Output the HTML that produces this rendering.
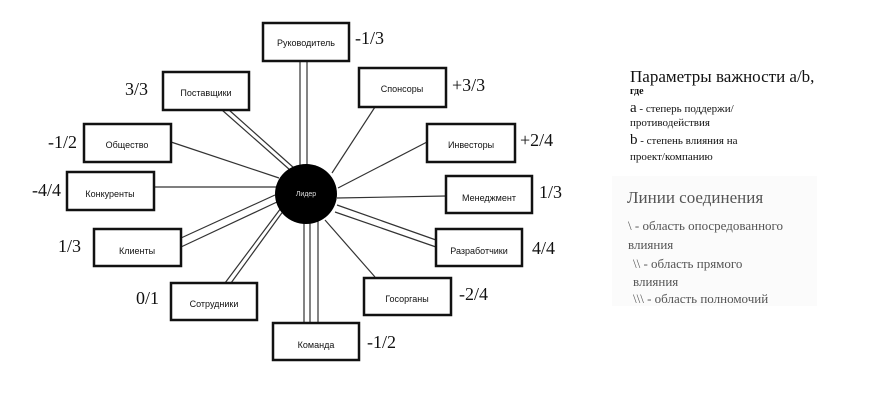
<!DOCTYPE html>
<html><head><meta charset="utf-8"><style>
body{margin:0;background:#fff;width:870px;height:400px;overflow:hidden}
svg{display:block}
.b{fill:#fff;stroke:#111;stroke-width:2.5}
.t{font-family:"Liberation Sans","DejaVu Sans",sans-serif;font-size:9px;fill:#111;text-anchor:middle}
.v{font-family:"Liberation Serif",serif;font-size:18px;fill:#111}
.l{stroke:#333;stroke-width:1.2}
.s{font-family:"Liberation Serif",serif;fill:#111}
.g{font-family:"Liberation Serif",serif;fill:#555}
</style></head><body>
<svg width="870" height="400" xmlns="http://www.w3.org/2000/svg">
<rect x="612" y="176" width="205" height="130" fill="#fbfbfb"/>
<line class="l" x1="375" y1="107" x2="332" y2="173"/>
<line class="l" x1="171" y1="142" x2="279" y2="178"/>
<line class="l" x1="427" y1="142" x2="338" y2="188"/>
<line class="l" x1="154" y1="187" x2="277" y2="187"/>
<line class="l" x1="446" y1="196" x2="337" y2="198"/>
<line class="l" x1="375" y1="277" x2="325" y2="220"/>
<line class="l" x1="300" y1="61" x2="300" y2="166"/>
<line class="l" x1="307" y1="61" x2="307" y2="166"/>
<line class="l" x1="222" y1="110" x2="290" y2="170"/>
<line class="l" x1="229" y1="110" x2="294" y2="168"/>
<line class="l" x1="181" y1="238" x2="275" y2="195"/>
<line class="l" x1="181" y1="247" x2="277" y2="202"/>
<line class="l" x1="337" y1="205" x2="436" y2="240"/>
<line class="l" x1="335" y1="212" x2="436" y2="247"/>
<line class="l" x1="225" y1="283" x2="281" y2="208"/>
<line class="l" x1="231" y1="283" x2="284" y2="210"/>
<line class="l" x1="304" y1="220" x2="304" y2="323"/>
<line class="l" x1="310" y1="220" x2="310" y2="323"/>
<line class="l" x1="318" y1="220" x2="318" y2="323"/>
<ellipse cx="306" cy="194" rx="31" ry="30" fill="#000"/>
<text x="306" y="196" class="t" style="fill:#ddd;font-size:7px">Лидер</text>
<g>
<rect class="b" x="263" y="23" width="86" height="38"/><text class="t" x="306" y="46">Руководитель</text>
<rect class="b" x="163" y="72" width="86" height="38"/><text class="t" x="206" y="96">Поставщики</text>
<rect class="b" x="359" y="68" width="87" height="39"/><text class="t" x="402" y="92">Спонсоры</text>
<rect class="b" x="84" y="124" width="87" height="38"/><text class="t" x="127" y="148">Общество</text>
<rect class="b" x="427" y="124" width="88" height="38"/><text class="t" x="471" y="148">Инвесторы</text>
<rect class="b" x="67" y="172" width="87" height="38"/><text class="t" x="110" y="197">Конкуренты</text>
<rect class="b" x="446" y="176" width="86" height="37"/><text class="t" x="489" y="201">Менеджмент</text>
<rect class="b" x="94" y="229" width="87" height="37"/><text class="t" x="137" y="254">Клиенты</text>
<rect class="b" x="436" y="229" width="86" height="37"/><text class="t" x="479" y="254">Разработчики</text>
<rect class="b" x="171" y="283" width="86" height="37"/><text class="t" x="214" y="307">Сотрудники</text>
<rect class="b" x="364" y="278" width="87" height="37"/><text class="t" x="407" y="302">Госорганы</text>
<rect class="b" x="273" y="323" width="86" height="37"/><text class="t" x="316" y="348">Команда</text>
</g>
<g class="v">
<text x="355" y="44">-1/3</text>
<text x="125" y="95">3/3</text>
<text x="452" y="91">+3/3</text>
<text x="48" y="148">-1/2</text>
<text x="520" y="146">+2/4</text>
<text x="32" y="196">-4/4</text>
<text x="539" y="198">1/3</text>
<text x="58" y="252">1/3</text>
<text x="532" y="254">4/4</text>
<text x="136" y="304">0/1</text>
<text x="459" y="300">-2/4</text>
<text x="367" y="348">-1/2</text>
</g>
<text class="s" x="630" y="82" font-size="17">Параметры важности a/b,</text>
<text class="s" x="630" y="94" font-size="10" font-weight="bold">где</text>
<text class="s" x="630" y="112" font-size="11"><tspan font-size="15">a</tspan> - степерь поддержи/</text>
<text class="s" x="630" y="126" font-size="11">противодействия</text>
<text class="s" x="630" y="144" font-size="11"><tspan font-size="15">b</tspan> - степень влияния на</text>
<text class="s" x="630" y="160" font-size="11">проект/компанию</text>
<text class="g" x="627" y="203" font-size="17">Линии соединения</text>
<text class="g" x="628" y="230" font-size="13">\ - область опосредованного</text>
<text class="g" x="628" y="249" font-size="13">влияния</text>
<text class="g" x="633" y="268" font-size="13">\\ - область прямого</text>
<text class="g" x="633" y="286" font-size="13">влияния</text>
<text class="g" x="633" y="303" font-size="13">\\\ - область  полномочий</text>
</svg>
</body></html>
